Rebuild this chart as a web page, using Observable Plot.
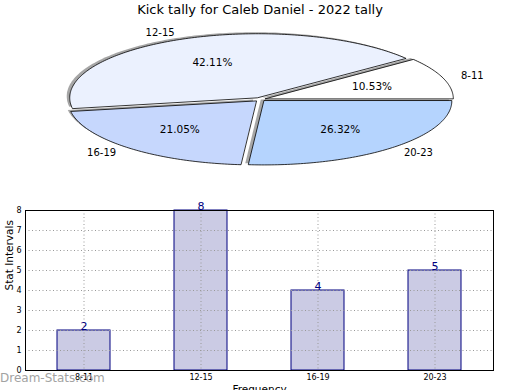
<!DOCTYPE html>
<html><head><meta charset="utf-8">
<script src="https://cdn.jsdelivr.net/npm/d3@7"></script>
<script src="https://cdn.jsdelivr.net/npm/@observablehq/plot@0.6"></script>
<style>
body{margin:0;background:#fff;font-family:"DejaVu Sans",sans-serif;}
#wrap{position:relative;width:520px;height:390px;overflow:hidden;background:#fff;}
#title{position:absolute;top:2px;left:0;width:520px;text-align:center;font-size:13px;color:#000;}
#pie{position:absolute;top:18px;left:0;}
#bar{position:absolute;top:195px;left:0;}
#wm{position:absolute;left:0;top:371px;font-size:12px;color:#999;opacity:0.9;}
svg{overflow:visible;}
</style></head><body>
<div id="wrap">
  <div id="title">Kick tally for Caleb Daniel - 2022 tally</div>
  <div id="pie"></div>
  <div id="bar"></div>
  <div id="wm">Dream-Stats.com</div>
</div>
<script>
const categories = ["8-11", "12-15", "16-19", "20-23"];
const counts = [2, 8, 4, 5];
const sliceColors = ["#ffffff", "#ebf1fe", "#c6d7fd", "#b5d4fe"];
const yTicks = [0, 1, 2, 3, 4, 5, 6, 7, 8];
const gridTicks = [1, 2, 3, 4, 5, 6, 7];
const titleText = "Kick tally for Caleb Daniel - 2022 tally";
const yLabel = "Stat Intervals";
const xLabel = "Frequency";

// pie geometry (ellipse radii in px)
const rx = 188, ry = 64, explode = 0.03;
const total = d3.sum(counts);
let cum = 0;
const slices = categories.map((c, i) => {
  const a0 = cum / total * 2 * Math.PI;
  cum += counts[i];
  const a1 = cum / total * 2 * Math.PI;
  const m = (a0 + a1) / 2;
  return {
    cat: c, i, a0, a1, m,
    ox: explode * rx * Math.cos(m), oy: explode * ry * Math.sin(m),
    color: sliceColors[i],
    pct: (counts[i] / total * 100).toFixed(2) + "%"
  };
});
function wedgePoints(s) {
  const arr = [{x: s.ox, y: s.oy}];
  const n = Math.max(2, Math.ceil((s.a1 - s.a0) / (Math.PI / 180)));
  for (let k = 0; k <= n; k++) {
    const a = s.a0 + (s.a1 - s.a0) * k / n;
    arr.push({x: s.ox + rx * Math.cos(a), y: s.oy + ry * Math.sin(a)});
  }
  return arr;
}
const pieMarks = slices.flatMap(s => {
  const p = wedgePoints(s);
  return [
    Plot.line(p, {x: "x", y: "y", curve: "linear-closed", fill: "#4d4d4d", fillOpacity: 0.5, stroke: "none", dx: -3, dy: -1.5}),
    Plot.line(p, {x: "x", y: "y", curve: "linear-closed", fill: s.color, stroke: "#000", strokeWidth: 0.8})
  ];
});
const lx = s => s.ox + 1.1 * rx * Math.cos(s.m);
const ly = s => s.oy + 1.1 * ry * Math.sin(s.m);
pieMarks.push(
  Plot.text(slices.filter(s => Math.cos(s.m) >= 0), {x: lx, y: ly, text: "cat", textAnchor: "start", fontSize: 10}),
  Plot.text(slices.filter(s => Math.cos(s.m) < 0), {x: lx, y: ly, text: "cat", textAnchor: "end", fontSize: 10}),
  Plot.text(slices, {x: s => s.ox + 0.6 * rx * Math.cos(s.m), y: s => s.oy + 0.6 * ry * Math.sin(s.m), text: "pct", fontSize: 10.5})
);
const pieH = 172, cy = 81;
document.getElementById("pie").append(Plot.plot({
  width: 520, height: pieH, margin: 0,
  x: {domain: [-259.5, 260.5], range: [0, 520], axis: null},
  y: {domain: [-(pieH - cy), cy], range: [pieH, 0], axis: null},
  style: {fontFamily: "DejaVu Sans", background: "transparent", color: "#000"},
  marks: pieMarks
}));

const barData = categories.map((c, i) => ({cat: c, count: counts[i]}));
document.getElementById("bar").append(Plot.plot({
  width: 520, height: 200,
  marginLeft: 25, marginRight: 27, marginTop: 15, marginBottom: 25,
  x: {domain: categories, paddingInner: 0.55, paddingOuter: 0.275, label: null},
  y: {domain: [0, 8], label: null},
  style: {fontFamily: "DejaVu Sans", background: "transparent", color: "#000"},
  marks: [
    Plot.barY(barData, {x: "cat", y: "count", fill: "#cbcbe4", stroke: "#000080", strokeWidth: 1}),
    Plot.gridY({ticks: gridTicks, stroke: "#999", strokeOpacity: 1, strokeDasharray: "1,2.5"}),
    Plot.gridX({stroke: "#999", strokeOpacity: 1, strokeDasharray: "1,2.5"}),
    Plot.text(barData, {x: "cat", y: "count", text: d => String(d.count), lineAnchor: "bottom", dy: -1, fill: "#000080", fontSize: 11}),
    Plot.frame({stroke: "#000", strokeWidth: 1}),
    Plot.axisY({ticks: yTicks, tickSize: 0, tickPadding: 4, fontSize: 8, label: null}),
    Plot.axisX({tickSize: 0, tickPadding: 4, fontSize: 8, label: null}),
    Plot.text([yLabel], {frameAnchor: "left", dx: -16, rotate: -90, fontSize: 10.5, text: d => d}),
    Plot.text([xLabel], {frameAnchor: "bottom", dy: 15, lineAnchor: "top", fontSize: 10.5, text: d => d})
  ]
}));
</script>
</body></html>
